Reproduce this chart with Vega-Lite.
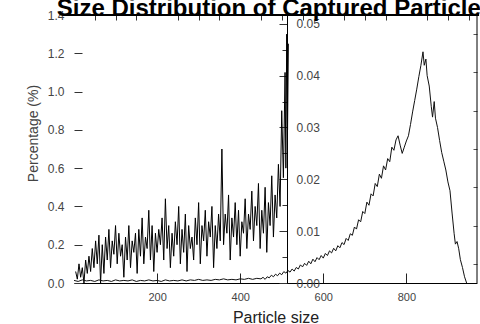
{
"$schema": "https://vega.github.io/schema/vega-lite/v6.json",
"width": 403, "height": 268,
"autosize": {"type": "none"},
"padding": {"left": 74, "top": 15, "right": 3, "bottom": 41},
"background": "white",
"config": {"view": {"stroke": null}, "font": "Liberation Sans", "axis": {"labelOverlap": false, "labelBound": false}},
"title": {"text": "Size Distribution of Captured Particles", "fontSize": 24, "fontWeight": "bold", "font": "Liberation Sans", "color": "#000", "anchor": "middle", "offset": -12},
"datasets": {
"left": [
{"size":4,"pct":0.06},{"size":8,"pct":0.02},{"size":12,"pct":0.10},{"size":16,"pct":0.03},{"size":20,"pct":0.08},{"size":24,"pct":0.00},{"size":28,"pct":0.12},{"size":32,"pct":0.05},{"size":36,"pct":0.14},{"size":40,"pct":0.06},
{"size":44,"pct":0.18},{"size":48,"pct":0.08},{"size":52,"pct":0.22},{"size":56,"pct":0.10},{"size":60,"pct":0.25},{"size":64,"pct":0.00},{"size":68,"pct":0.20},{"size":72,"pct":0.05},{"size":76,"pct":0.24},{"size":80,"pct":0.12},
{"size":84,"pct":0.28},{"size":88,"pct":0.08},{"size":92,"pct":0.22},{"size":96,"pct":0.15},{"size":100,"pct":0.30},{"size":104,"pct":0.10},{"size":108,"pct":0.26},{"size":112,"pct":0.14},{"size":116,"pct":0.20},{"size":120,"pct":0.03},
{"size":124,"pct":0.24},{"size":128,"pct":0.12},{"size":132,"pct":0.30},{"size":136,"pct":0.08},{"size":140,"pct":0.22},{"size":144,"pct":0.16},{"size":148,"pct":0.26},{"size":152,"pct":0.05},{"size":156,"pct":0.28},{"size":160,"pct":0.14},
{"size":164,"pct":0.34},{"size":168,"pct":0.10},{"size":172,"pct":0.24},{"size":176,"pct":0.18},{"size":180,"pct":0.38},{"size":184,"pct":0.12},{"size":188,"pct":0.30},{"size":192,"pct":0.06},{"size":196,"pct":0.26},{"size":200,"pct":0.16},
{"size":204,"pct":0.28},{"size":208,"pct":0.20},{"size":212,"pct":0.34},{"size":216,"pct":0.12},{"size":220,"pct":0.44},{"size":224,"pct":0.18},{"size":228,"pct":0.30},{"size":232,"pct":0.08},{"size":236,"pct":0.26},{"size":240,"pct":0.14},
{"size":244,"pct":0.32},{"size":248,"pct":0.20},{"size":252,"pct":0.40},{"size":256,"pct":0.10},{"size":260,"pct":0.28},{"size":264,"pct":0.16},{"size":268,"pct":0.36},{"size":272,"pct":0.06},{"size":276,"pct":0.30},{"size":280,"pct":0.18},
{"size":284,"pct":0.24},{"size":288,"pct":0.12},{"size":292,"pct":0.34},{"size":296,"pct":0.20},{"size":300,"pct":0.42},{"size":304,"pct":0.10},{"size":308,"pct":0.30},{"size":312,"pct":0.22},{"size":316,"pct":0.38},{"size":320,"pct":0.14},
{"size":324,"pct":0.32},{"size":328,"pct":0.24},{"size":332,"pct":0.40},{"size":336,"pct":0.08},{"size":340,"pct":0.30},{"size":344,"pct":0.18},{"size":348,"pct":0.36},{"size":352,"pct":0.22},{"size":356,"pct":0.70},{"size":360,"pct":0.20},
{"size":364,"pct":0.36},{"size":368,"pct":0.26},{"size":372,"pct":0.46},{"size":376,"pct":0.12},{"size":380,"pct":0.34},{"size":384,"pct":0.24},{"size":388,"pct":0.42},{"size":392,"pct":0.20},{"size":396,"pct":0.38},{"size":400,"pct":0.14},
{"size":404,"pct":0.32},{"size":408,"pct":0.26},{"size":412,"pct":0.44},{"size":416,"pct":0.18},{"size":420,"pct":0.36},{"size":424,"pct":0.28},{"size":428,"pct":0.48},{"size":432,"pct":0.22},{"size":436,"pct":0.40},{"size":440,"pct":0.30},
{"size":444,"pct":0.52},{"size":448,"pct":0.18},{"size":452,"pct":0.38},{"size":456,"pct":0.26},{"size":460,"pct":0.50},{"size":464,"pct":0.16},{"size":468,"pct":0.42},{"size":472,"pct":0.30},{"size":476,"pct":0.56},{"size":480,"pct":0.24},
{"size":484,"pct":0.46},{"size":488,"pct":0.34},{"size":492,"pct":0.62},{"size":496,"pct":0.40},{"size":500,"pct":0.90},{"size":504,"pct":0.55},{"size":508,"pct":1.10},{"size":510,"pct":0.60},{"size":512,"pct":1.30},{"size":514,"pct":0.80},{"size":516,"pct":1.25}
],
"right": [
{"size":0,"pct":0.0005},{"size":10,"pct":0.0003},{"size":20,"pct":0.0006},{"size":30,"pct":0.0004},{"size":40,"pct":0.0005},{"size":50,"pct":0.0003},{"size":60,"pct":0.0006},{"size":70,"pct":0.0004},{"size":80,"pct":0.0005},{"size":90,"pct":0.0003},
{"size":100,"pct":0.0006},{"size":110,"pct":0.0004},{"size":120,"pct":0.0005},{"size":130,"pct":0.0004},{"size":140,"pct":0.0006},{"size":150,"pct":0.0003},{"size":160,"pct":0.0005},{"size":170,"pct":0.0004},{"size":180,"pct":0.0006},{"size":190,"pct":0.0004},
{"size":200,"pct":0.0005},{"size":210,"pct":0.0003},{"size":220,"pct":0.0006},{"size":230,"pct":0.0004},{"size":240,"pct":0.0005},{"size":250,"pct":0.0004},{"size":260,"pct":0.0006},{"size":270,"pct":0.0004},{"size":280,"pct":0.0006},{"size":290,"pct":0.0005},
{"size":300,"pct":0.0007},{"size":310,"pct":0.0005},{"size":320,"pct":0.0006},{"size":330,"pct":0.0005},{"size":340,"pct":0.0007},{"size":350,"pct":0.0006},{"size":360,"pct":0.0008},{"size":370,"pct":0.0006},{"size":380,"pct":0.0007},{"size":390,"pct":0.0006},
{"size":400,"pct":0.0008},{"size":410,"pct":0.0007},{"size":420,"pct":0.0009},{"size":430,"pct":0.0007},{"size":440,"pct":0.0009},
{"size":450,"pct":0.0008},{"size":455,"pct":0.0011},{"size":460,"pct":0.0007},{"size":465,"pct":0.0012},{"size":470,"pct":0.0010},{"size":475,"pct":0.0015},{"size":480,"pct":0.0012},{"size":485,"pct":0.0017},{"size":490,"pct":0.0014},{"size":495,"pct":0.0019},
{"size":500,"pct":0.0016},{"size":505,"pct":0.0022},{"size":510,"pct":0.0019},{"size":515,"pct":0.0024},{"size":520,"pct":0.0021},{"size":525,"pct":0.0027},{"size":530,"pct":0.0023},{"size":535,"pct":0.0030},{"size":540,"pct":0.0027},{"size":545,"pct":0.0035},
{"size":550,"pct":0.0031},{"size":555,"pct":0.0038},{"size":560,"pct":0.0034},{"size":565,"pct":0.0042},{"size":570,"pct":0.0037},{"size":575,"pct":0.0046},{"size":580,"pct":0.0041},{"size":585,"pct":0.0049},{"size":590,"pct":0.0045},{"size":595,"pct":0.0053},
{"size":600,"pct":0.0048},{"size":605,"pct":0.0057},{"size":610,"pct":0.0053},{"size":615,"pct":0.0062},{"size":620,"pct":0.0058},{"size":625,"pct":0.0067},{"size":630,"pct":0.0062},{"size":635,"pct":0.0072},{"size":640,"pct":0.0068},{"size":645,"pct":0.0078},
{"size":650,"pct":0.0074},{"size":655,"pct":0.0086},{"size":660,"pct":0.0082},{"size":665,"pct":0.0095},{"size":670,"pct":0.0092},{"size":675,"pct":0.0108},{"size":680,"pct":0.0104},{"size":685,"pct":0.0122},{"size":690,"pct":0.0118},{"size":695,"pct":0.0138},
{"size":700,"pct":0.0134},{"size":705,"pct":0.0156},{"size":710,"pct":0.0150},{"size":715,"pct":0.0172},{"size":720,"pct":0.0168},{"size":725,"pct":0.0192},{"size":730,"pct":0.0186},{"size":735,"pct":0.0210},{"size":740,"pct":0.0202},{"size":745,"pct":0.0226},
{"size":750,"pct":0.0218},{"size":755,"pct":0.0240},{"size":760,"pct":0.0234},{"size":765,"pct":0.0262},{"size":770,"pct":0.0256},{"size":775,"pct":0.0276},{"size":780,"pct":0.0284},{"size":785,"pct":0.0266},{"size":790,"pct":0.0250},{"size":795,"pct":0.0262},
{"size":800,"pct":0.0274},{"size":805,"pct":0.0284},{"size":810,"pct":0.0306},{"size":815,"pct":0.0330},{"size":820,"pct":0.0352},{"size":825,"pct":0.0374},{"size":830,"pct":0.0398},{"size":835,"pct":0.0420},{"size":840,"pct":0.0446},{"size":843,"pct":0.0420},
{"size":847,"pct":0.0432},{"size":850,"pct":0.0400},{"size":855,"pct":0.0380},{"size":860,"pct":0.0340},{"size":863,"pct":0.0320},{"size":867,"pct":0.0350},{"size":870,"pct":0.0318},{"size":875,"pct":0.0300},{"size":880,"pct":0.0275},{"size":885,"pct":0.0252},
{"size":890,"pct":0.0235},{"size":895,"pct":0.0218},{"size":900,"pct":0.0195},{"size":905,"pct":0.0178},{"size":910,"pct":0.0135},{"size":915,"pct":0.0095},{"size":918,"pct":0.0075},{"size":922,"pct":0.0080},{"size":926,"pct":0.0066},{"size":930,"pct":0.0045},
{"size":935,"pct":0.0030},{"size":940,"pct":0.0012},{"size":945,"pct":0.0000}
]
},
"layer": [
{"layer": [
 {"data": {"name": "left"},
  "mark": {"type": "line", "color": "#000", "strokeWidth": 1},
  "encoding": {
   "x": {"field": "size", "type": "quantitative", "scale": {"domain": [0, 970], "nice": false},
    "axis": {"values": [200,400,600,800], "format": "d",
     "tickSize": -10,
     "tickColor": "#222", "domainColor": "#000", "labelFontSize": 11, "labelColor": "#444", "labelPadding": 18,
     "grid": false, "title": "Particle size", "titleFontSize": 16, "titleFontWeight": "normal", "titleColor": "#222",
     "titleY": 39, "titleBaseline": "alphabetic"}},
   "y": {"field": "pct", "type": "quantitative", "scale": {"domain": [0, 1.4], "nice": false},
    "axis": {"values": [0,0.2,0.4,0.6,0.8,1.0,1.2,1.4], "format": ".1f",
     "domain": false,
     "tickSize": -8,
     "tickColor": "#333", "labelFontSize": 12, "labelColor": "#444", "labelPadding": 18, "grid": false,
     "title": "Percentage (%)", "titleFontSize": 14, "titleFontWeight": "normal", "titleColor": "#444",
     "titleX": -41, "titleY": 118, "titleAngle": -90, "titleAlign": "center", "titleBaseline": "middle"}}
  }},
 {"data": {"values": [{}]},
  "mark": {"type": "rule", "color": "#000", "strokeWidth": 2},
  "encoding": {"x": {"datum": -27}, "x2": {"datum": 975},
   "y": {"datum": 1.4, "axis": {"values": [0.1,0.3,0.5,0.7,0.9,1.1,1.3], "labels": false, "domain": false, "tickSize": -4, "tickColor": "#555", "grid": false, "title": null}}}},
 {"data": {"values": [{}]},
  "mark": {"type": "rule", "color": "#000", "strokeWidth": 1},
  "encoding": {"x": {"datum": 970}, "y": {"datum": 0, "axis": null}, "y2": {"datum": 1.4}}}
],
 "resolve": {"axis": {"y": "independent"}}
},
{"data": {"name": "right"},
 "mark": {"type": "line", "color": "#111", "strokeWidth": 1},
 "encoding": {
  "x": {"field": "size", "type": "quantitative",
   "axis": {"values": [50,100,150,250,300,350,450,500,550,650,700,750,850,900,950], "labels": false, "domain": false,
    "tickSize": -5, "tickColor": "#333", "grid": false, "title": null}},
  "y": {"field": "pct", "type": "quantitative", "scale": {"domain": [0, 0.0517], "nice": false},
   "axis": {"orient": "right", "offset": -190,
    "values": [0,0.005,0.01,0.015,0.02,0.025,0.03,0.035,0.04,0.045,0.05],
    "labelExpr": "round(datum.value*1000) % 10 == 0 ? format(datum.value, '.2f') : ''",
    "domain": true, "domainColor": "#000",
    "tickSize": {"condition": {"test": "round(datum.value*1000) % 10 == 0", "value": -8}, "value": -5},
    "tickColor": "#333", "labelFontSize": 12, "labelColor": "#444", "labelPadding": 17, "grid": false, "title": null}}
 }}
],
"resolve": {"scale": {"y": "independent"}, "axis": {"y": "independent", "x": "independent"}}
}
